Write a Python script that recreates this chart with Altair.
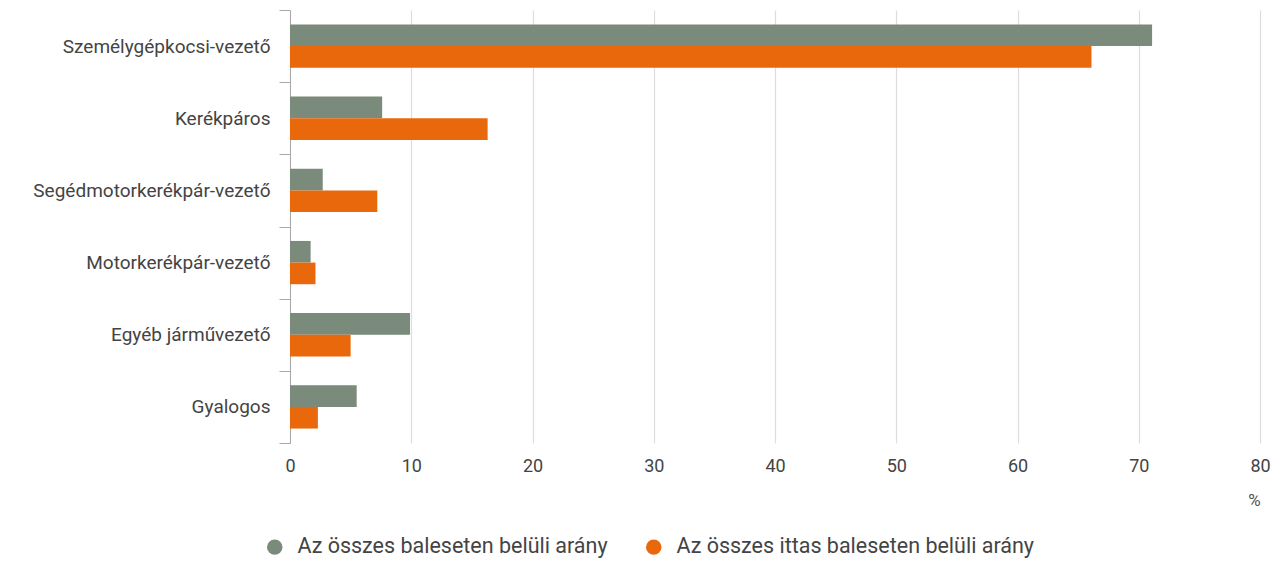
import altair as alt
import pandas as pd

categories = [
    "Személygépkocsi-vezető",
    "Kerékpáros",
    "Segédmotorkerékpár-vezető",
    "Motorkerékpár-vezető",
    "Egyéb járművezető",
    "Gyalogos",
]
series = ["Az összes baleseten belüli arány", "Az összes ittas baleseten belüli arány"]
all_accidents = [71.1, 7.6, 2.7, 1.7, 9.9, 5.5]
drunk_accidents = [66.1, 16.3, 7.2, 2.1, 5.0, 2.3]
colors = ["#7a8a7b", "#ea680c"]

rows = []
for c, a, d in zip(categories, all_accidents, drunk_accidents):
    rows.append({"cat": c, "series": series[0], "value": a})
    rows.append({"cat": c, "series": series[1], "value": d})
df = pd.DataFrame(rows)

FONT = "Roboto"
TXT = "#444444"

chart = (
    alt.Chart(df)
    .mark_bar()
    .encode(
        y=alt.Y(
            "cat:N",
            sort=categories,
            scale=alt.Scale(paddingInner=0, paddingOuter=0),
            axis=alt.Axis(
                title=None,
                tickBand="extent",
                tickSize=11,
                labelPadding=9,
                labelFontSize=19,
                labelFont=FONT,
                labelColor=TXT,
                domainColor="#a8a8a8",
                tickColor="#a8a8a8",
                grid=False,
                labelLimit=400,
            ),
        ),
        yOffset=alt.YOffset(
            "series:N",
            sort=series,
            scale=alt.Scale(paddingInner=0, paddingOuter=0.667),
        ),
        x=alt.X(
            "value:Q",
            scale=alt.Scale(domain=[0, 80], nice=False),
            axis=alt.Axis(
                values=[0, 10, 20, 30, 40, 50, 60, 70, 80],
                title="%",
                titleX=964,
                titleY=57,
                titleAlign="center",
                titleBaseline="middle",
                titleFont=FONT,
                titleFontSize=17,
                titleFontWeight="normal",
                titleColor="#555555",
                domain=False,
                ticks=False,
                labelFlush=False,
                labelPadding=14,
                labelFontSize=18,
                labelFont=FONT,
                labelColor=TXT,
                gridColor="#dddddd",
                gridWidth=1.2,
            ),
        ),
        color=alt.Color(
            "series:N",
            sort=series,
            scale=alt.Scale(domain=series, range=colors),
            legend=alt.Legend(
                title=None,
                orient="none",
                direction="horizontal",
                legendX=-26,
                legendY=526,
                symbolType="circle",
                symbolSize=240,
                symbolStrokeWidth=0,
                labelFontSize=21.5,
                labelFont=FONT,
                labelColor=TXT,
                labelOffset=12,
                columnPadding=35,
                labelLimit=600,
            ),
        ),
    )
    .properties(
        width=970,
        height=433,
        autosize=alt.AutoSizeParams(type="none"),
        padding={"left": 282, "top": 2, "right": 20, "bottom": 120},
    )
    .configure_view(stroke=None)
)

chart.save("out.html", embed_options={"renderer": "svg", "actions": False})
